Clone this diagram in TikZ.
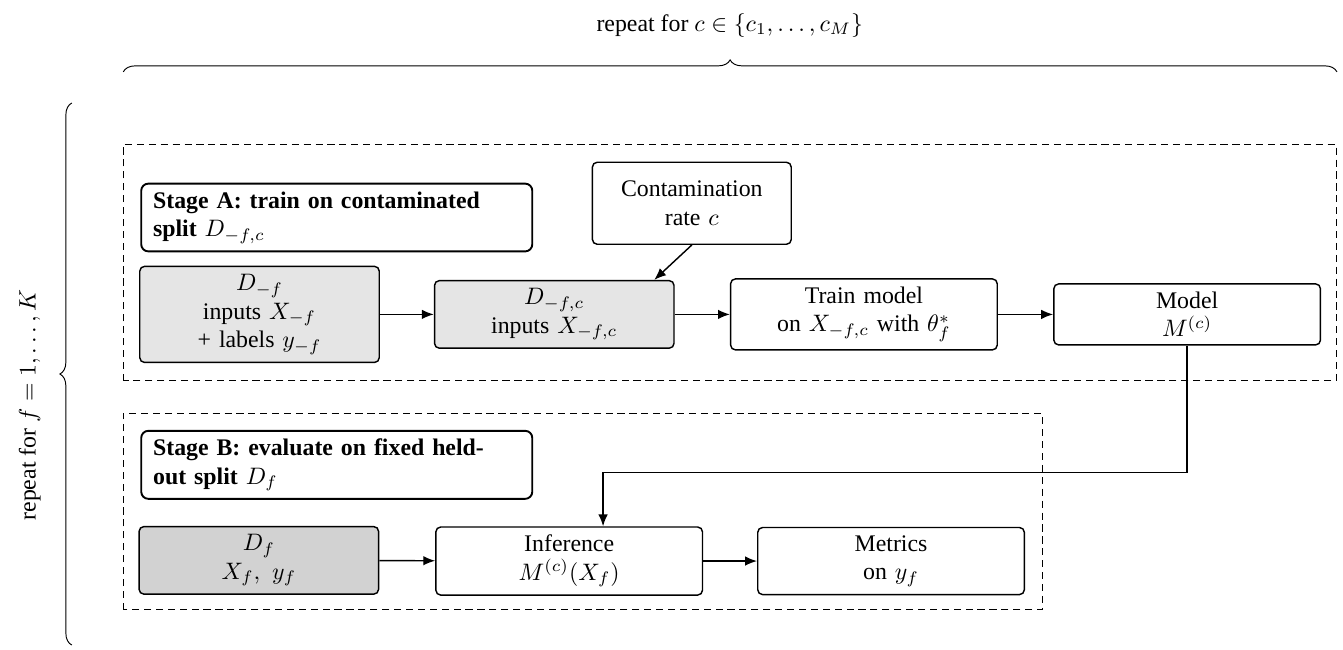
\documentclass[tikz,border=0pt]{standalone}
\usepackage{fontspec}
\setmainfont{Liberation Serif}
\usetikzlibrary{arrows.meta,decorations.pathreplacing,calc}

\tikzset{
	box/.style={draw, semithick, rounded corners=2pt, align=center, text width=3.7cm},
	databox/.style={box, fill=gray!20, text width=3.3cm},
	stagebox/.style={draw, thick, rounded corners=3pt, align=left, text width=5.42cm, inner xsep=5pt, font=\bfseries, anchor=west},
	stagearea/.style={dash pattern=on 3pt off 2pt},
	flow/.style={semithick, -{Latex[length=5pt,width=4pt]}},
	loopbrace/.style={decorate, decoration={brace, amplitude=5pt}},
}

\begin{document}
\begin{tikzpicture}
	\useasboundingbox (0,0) rectangle (19.82,9.58);
	% loops
	\draw [loopbrace] (1.82,8.52) -- (19.73,8.52);
	\node (cloop) at (10.77,9.21) {repeat for $c \in \{c_1, \ldots, c_M\}$};
	\draw [loopbrace] (1.06,0.06) -- (1.06,8.06);
	\node [rotate=90] (floop) at (0.44,3.6) {repeat for $f = 1, \ldots, K$};
	% stage A
	\draw [stagearea] (1.82,3.96) rectangle (19.72,7.45);
	\node [stagebox] (titleA) at (2.07,6.37) {Stage A: train on contaminated\\ split $D_{-f,c}$};
	\node [box, text width=2.7cm, minimum height=1.21cm] (contam) at (10.21,6.58) {Contamination\\ rate $c$};
	\node [databox] (dtrain) at (3.83,4.94) {$D_{-f}$\\ inputs $X_{-f}$\\ + labels $y_{-f}$};
	\node [databox] (dcont) at (8.18,4.94) {$D_{-f,c}$\\ inputs $X_{-f,c}$};
	\node [box] (train) at (12.75,4.94) {Train model\\ on $X_{-f,c}$ with $\theta^*_f$};
	\node [box] (model) at (17.52,4.94) {Model\\ $M^{(c)}$};
	\draw [flow] (dtrain) -- (dcont);
	\draw [flow] (contam.south) -- ($(dcont.north)!0.83!(dcont.north east)$);
	\draw [flow] (dcont) -- (train);
	\draw [flow] (train) -- (model);
	% stage B
	\draw [stagearea] (1.82,0.58) rectangle (15.38,3.48);
	\node [stagebox] (titleB) at (2.07,2.72) {Stage B: evaluate on fixed held-\\ out split $D_f$};
	\node [databox, fill=gray!35] (dtest) at (3.82,1.31) {$D_f$\\ $X_f,\ y_f$};
	\node [box] (infer) at (8.40,1.30) {Inference\\ $M^{(c)}(X_f)$};
	\node [box] (metrics) at (13.15,1.30) {Metrics\\ on $y_f$};
	\coordinate (bend) at (8.90,2.61);
	\draw [flow] (dtest) -- (infer);
	\draw [flow] (infer) -- (metrics);
	\draw [flow] (model.south) |- (bend) -- (bend |- infer.north);
\end{tikzpicture}
\end{document}
